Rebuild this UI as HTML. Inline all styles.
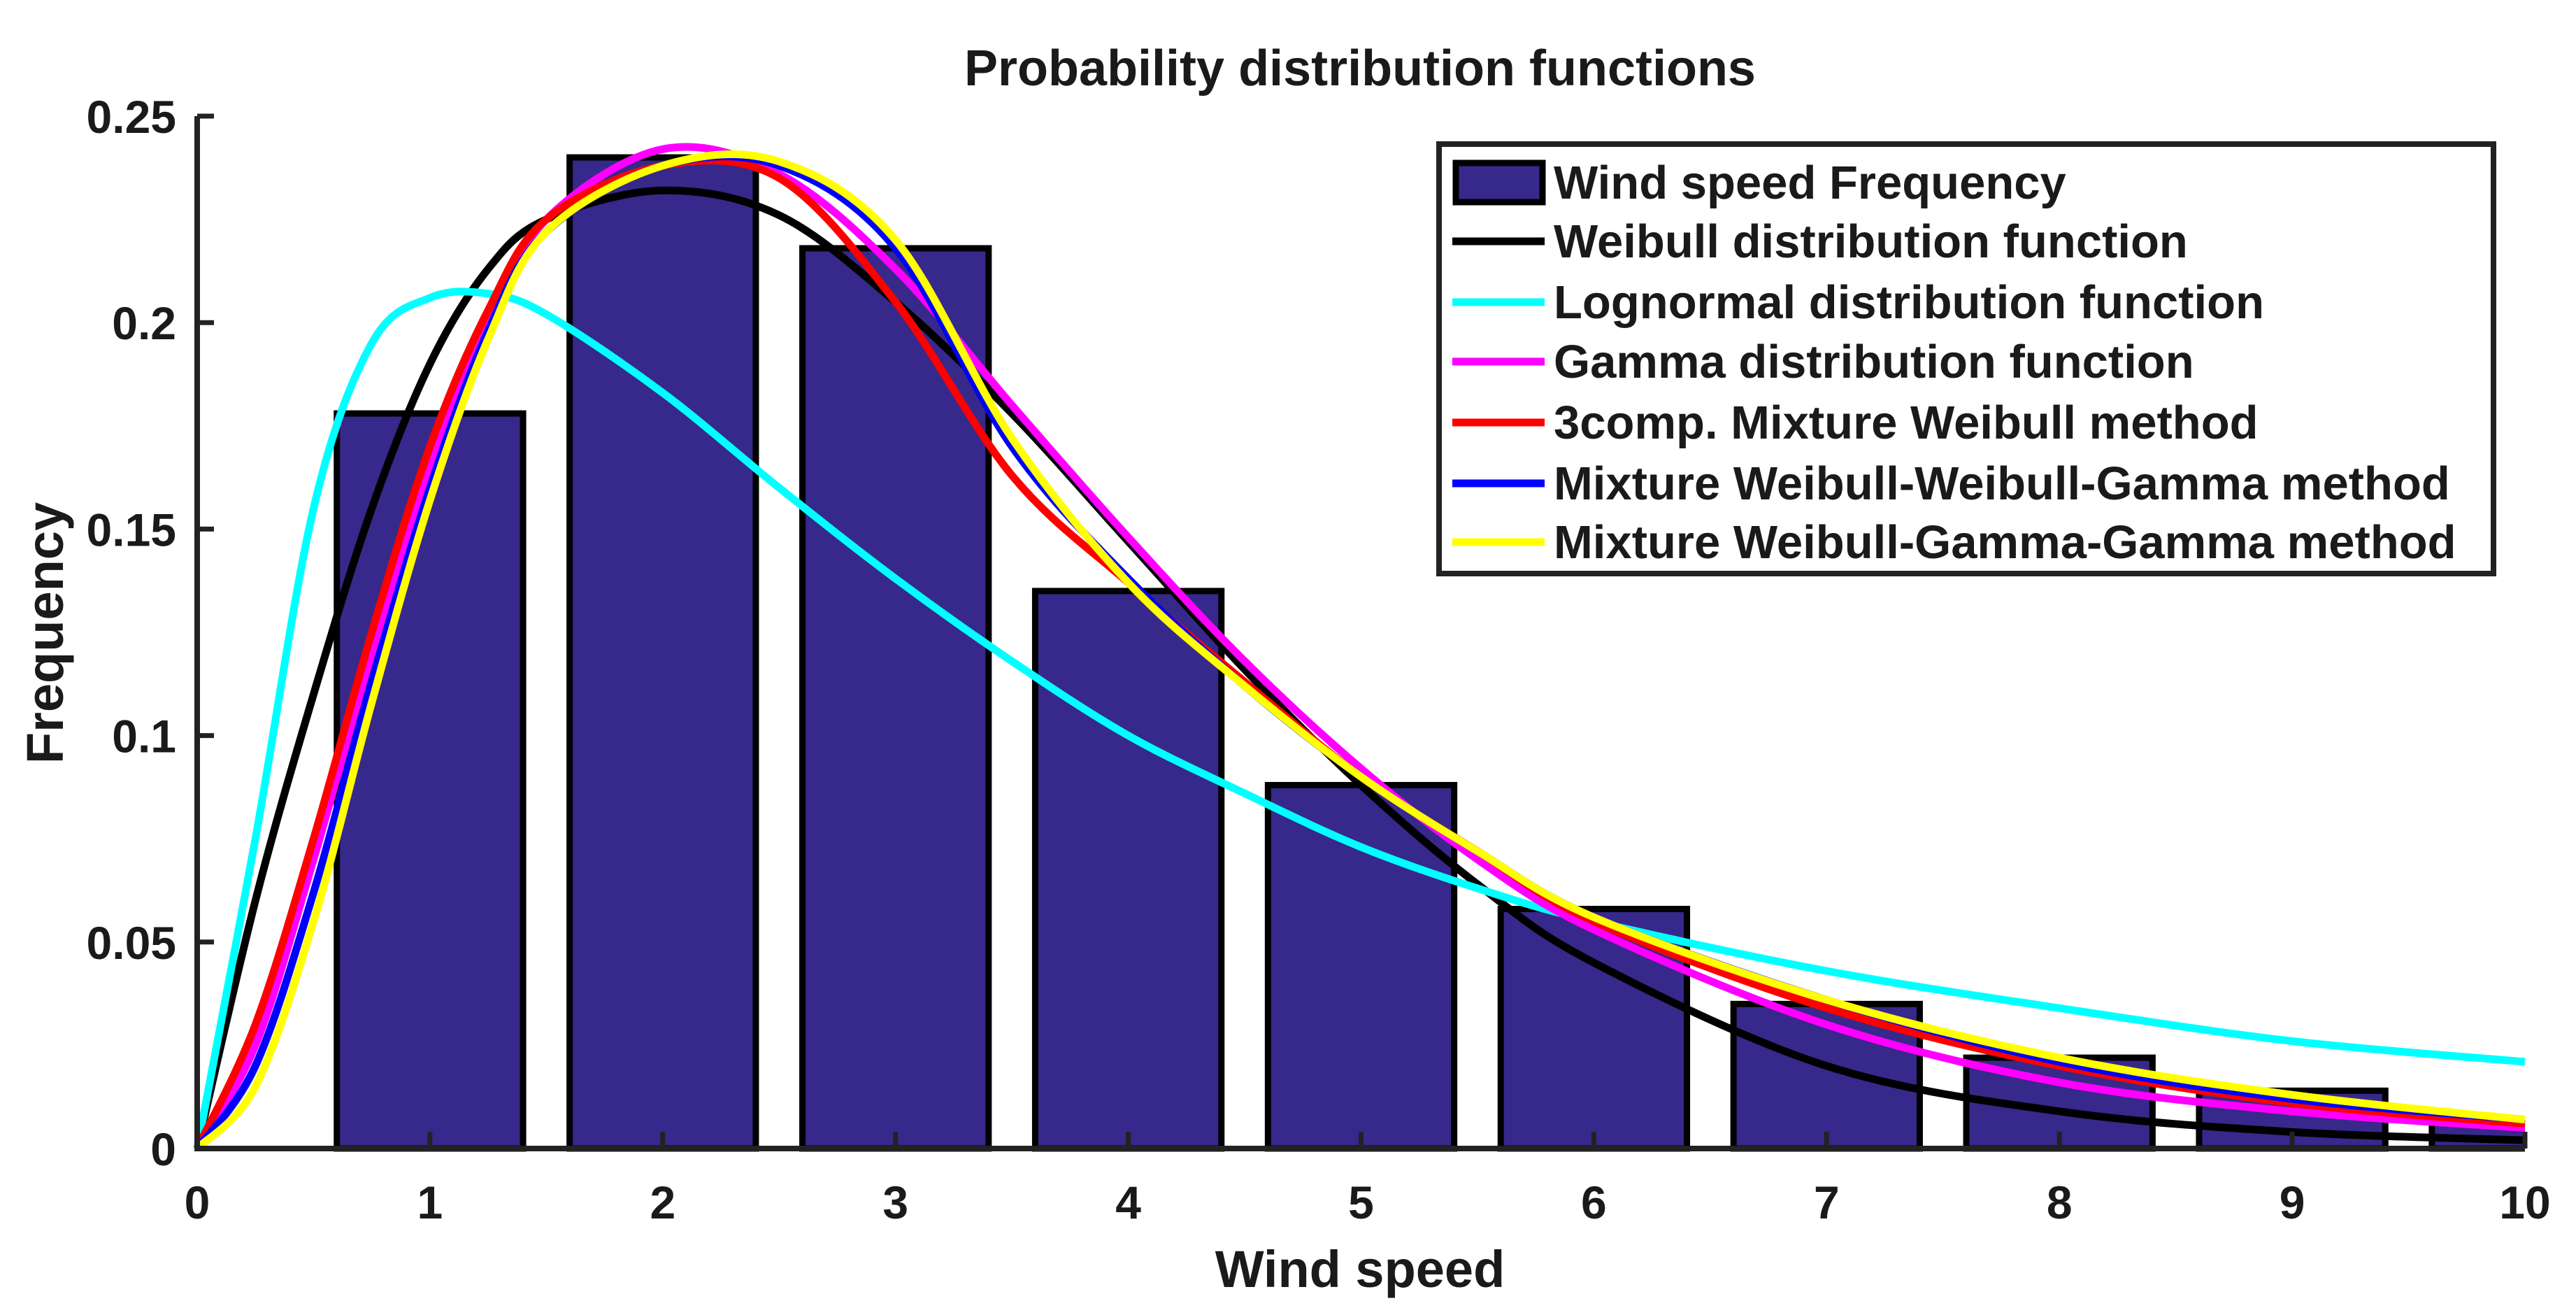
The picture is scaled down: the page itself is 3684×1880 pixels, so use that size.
<!DOCTYPE html>
<html><head><meta charset="utf-8"><style>
html,body{margin:0;padding:0;background:#fff;}
svg text{font-family:"Liberation Sans",Arial,sans-serif;font-weight:bold;fill:#1a1a1a;}
</style></head><body>
<svg id="chart" xmlns="http://www.w3.org/2000/svg" width="3684" height="1875" viewBox="0 0 3684 1875">
<defs><clipPath id="plotclip"><rect x="282" y="100" width="3329" height="1600"/></clipPath></defs>
<text x="1945" y="122" font-size="72" text-anchor="middle">Probability distribution functions</text>
<text x="1945" y="1840" font-size="74" text-anchor="middle">Wind speed</text>
<text x="0" y="0" font-size="74" text-anchor="middle" transform="translate(90,905) rotate(-90)">Frequency</text>
<g id="bars" clip-path="url(#plotclip)"></g>
<g id="curves"></g>
<g id="axes"></g>
<g id="legend"></g>
</svg>
<script>
const barCenters=[1,2,3,4,5,6,7,8,9,10];
const barValues=[0.178,0.240,0.218,0.135,0.088,0.058,0.035,0.022,0.014,0.007];
const xs=[0,0.25,0.5,0.75,1,1.25,1.5,2,2.5,3,3.5,4,4.5,5,5.5,6,7,8,9,10];
const weibull=[0,0.06,0.11,0.155,0.19,0.213,0.225,0.232,0.226,0.205,0.178,0.147,0.116,0.088,0.064,0.045,0.02,0.009,0.004,0.002];
const lognormal=[0,0.075,0.155,0.195,0.206,0.207,0.202,0.183,0.16,0.138,0.118,0.1,0.086,0.073,0.063,0.055,0.043,0.034,0.026,0.021];
const gamma=[0,0.025,0.07,0.12,0.165,0.2,0.225,0.242,0.236,0.213,0.18,0.148,0.118,0.092,0.07,0.053,0.03,0.016,0.009,0.005];
const mixW3=[0,0.03,0.075,0.125,0.17,0.203,0.225,0.238,0.235,0.205,0.163,0.137,0.113,0.09,0.072,0.055,0.034,0.02,0.011,0.006];
const mixWWG=[0,0.02,0.062,0.113,0.16,0.198,0.222,0.238,0.238,0.218,0.17,0.138,0.112,0.09,0.072,0.056,0.036,0.021,0.012,0.007];
const mixWGG=[0,0.015,0.055,0.108,0.157,0.196,0.222,0.238,0.239,0.22,0.172,0.137,0.112,0.09,0.072,0.056,0.036,0.022,0.013,0.007];
const xTicks=[0,1,2,3,4,5,6,7,8,9,10];
const yTicks=[0,0.05,0.1,0.15,0.2,0.25];
const yTickLabels=["0","0.05","0.1","0.15","0.2","0.25"];
const legendLabels=["Wind speed Frequency","Weibull distribution function"," Lognormal distribution function","Gamma distribution function","3comp. Mixture Weibull method","Mixture Weibull-Weibull-Gamma method","Mixture Weibull-Gamma-Gamma method"];

const NS="http://www.w3.org/2000/svg";
const X0=282,X1=3611,Y0=1642,Y1=166;
const sx=v=>X0+(v-0)/(10-0)*(X1-X0);
const sy=v=>Y0-(v/0.25)*(Y0-Y1);
function mk(tag,attrs,parent){const e=document.createElementNS(NS,tag);for(const k in attrs)e.setAttribute(k,attrs[k]);parent.appendChild(e);return e;}

const gb=document.getElementById('bars');
barCenters.forEach((c,i)=>{
  const x=sx(c-0.4),w=sx(c+0.4)-x,y=sy(barValues[i]);
  const r=mk('rect',{x:x,y:y,width:w,height:Y0-y,fill:'#37288b',stroke:'#000','stroke-width':9},gb);
  
  
});

function pathFor(vals){
  const p=xs.map((x,i)=>[sx(x),sy(vals[i])]);
  let d='M'+p[0][0]+','+p[0][1];
  for(let i=0;i<p.length-1;i++){
    const p0=p[Math.max(0,i-1)],p1=p[i],p2=p[i+1],p3=p[Math.min(p.length-1,i+2)];
    const c1=[p1[0]+(p2[0]-p0[0])/6,p1[1]+(p2[1]-p0[1])/6];
    const c2=[p2[0]-(p3[0]-p1[0])/6,p2[1]-(p3[1]-p1[1])/6];
    d+=' C'+c1[0]+','+c1[1]+' '+c2[0]+','+c2[1]+' '+p2[0]+','+p2[1];
  }
  return d;
}
const series=[[weibull,'#000000','weibull-curve'],[lognormal,'#00ffff','lognormal-curve'],[gamma,'#ff00ff','gamma-curve'],[mixW3,'#ff0000','mixture-weibull-curve'],[mixWWG,'#0000ff','mixture-wwg-curve'],[mixWGG,'#ffff00','mixture-wgg-curve']];
const gc=document.getElementById('curves');
series.forEach(s=>{
  const e=mk('path',{d:pathFor(s[0]),fill:'none',stroke:s[1],'stroke-width':11,'stroke-linejoin':'round'},gc);
  
  
});

const ga=document.getElementById('axes');
let e=mk('path',{d:`M${X0},${Y1} L${X0},${Y0} L${X1},${Y0}`,fill:'none',stroke:'#222','stroke-width':8},ga);


xTicks.forEach(t=>{
  const x=sx(t);
  const l=mk('line',{x1:x,y1:Y0,x2:x,y2:Y0-24,stroke:'#222','stroke-width':7},ga);
  
  
  const tx=mk('text',{x:x,y:1742,'font-size':66,'text-anchor':'middle'},ga);
  tx.textContent=String(t);
  
  
});
yTicks.forEach((t,i)=>{
  const y=sy(t);
  const l=mk('line',{x1:X0,y1:y,x2:X0+24,y2:y,stroke:'#222','stroke-width':7},ga);
  
  
  const tx=mk('text',{x:252,y:y+24,'font-size':66,'text-anchor':'end'},ga);
  tx.textContent=yTickLabels[i];
  
  
});

const gl=document.getElementById('legend');
e=mk('rect',{x:2058,y:206,width:1508,height:614,fill:'#fff',stroke:'#222','stroke-width':8},gl);


const rowY=[261,345,432,517,604,691,775];
const swCol=[null,'#000000','#00ffff','#ff00ff','#ff0000','#0000ff','#ffff00'];
legendLabels.forEach((lab,i)=>{
  const y=rowY[i];
  if(i===0){
    const r=mk('rect',{x:2082,y:y-28,width:124,height:56,fill:'#37288b',stroke:'#000','stroke-width':9},gl);
    
    
  } else {
    const l=mk('line',{x1:2077,y1:y,x2:2209,y2:y,stroke:swCol[i],'stroke-width':11},gl);
    
    
  }
  const tx=mk('text',{x:2222,y:y+23,'font-size':67},gl);
  tx.textContent=lab;
  
  
});
</script>
</body></html>
